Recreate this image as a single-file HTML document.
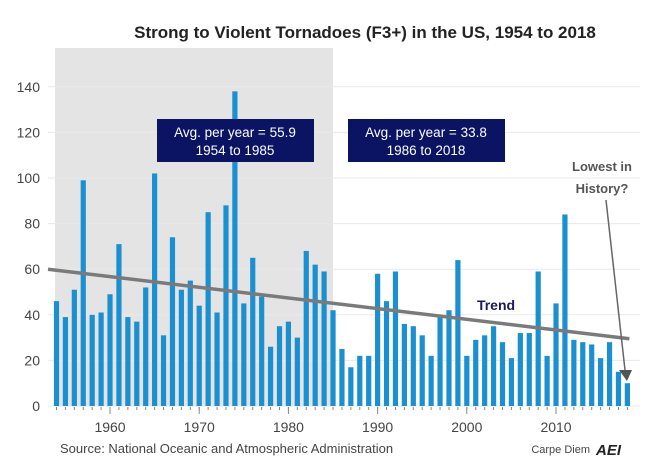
<!DOCTYPE html>
<html><head><meta charset="utf-8"><style>
body{margin:0;background:#fff;font-family:"Liberation Sans",sans-serif}
svg{display:block}
</style></head><body>
<svg width="671" height="467" viewBox="0 0 671 467" id="chart">
<rect x="0" y="0" width="671" height="467" fill="#fff"/>
<text x="365" y="38" text-anchor="middle" font-size="17" font-weight="bold" fill="#222">Strong to Violent Tornadoes (F3+) in the US, 1954 to 2018</text>
<g id="grid"></g>
<g id="bars"></g>
<g id="axis"></g>
</svg>
<script>
const years=[];for(let y=1954;y<=2018;y++)years.push(y);
const counts=[46,39,51,99,40,41,49,71,39,37,52,102,31,74,51,55,44,85,41,88,138,45,65,48,26,35,37,30,68,62,59,42,
25,17,22,22,58,46,59,36,35,31,22,40,42,64,22,29,31,35,28,21,32,32,59,22,45,84,29,28,27,21,28,15,10];
const yTicks=[0,20,40,60,80,100,120,140];
const xTicks=[1960,1970,1980,1990,2000,2010];
const trendStart=[1954,60],trendEnd=[2018,29.5];
const NS="http://www.w3.org/2000/svg";
const X=y=>56.5+(y-1954)*8.92;
const Y=v=>406-v*2.28;
function mk(t,a,p){const e=document.createElementNS(NS,t);for(const k in a)e.setAttribute(k,a[k]);(p||document.getElementById('chart')).appendChild(e);return e;}
const grid=document.getElementById('grid'),bars=document.getElementById('bars'),axis=document.getElementById('axis');
const sh=mk('rect',{x:55,y:48,width:278,height:Y(0)-48,fill:'#e4e4e4'},grid);


yTicks.forEach(v=>{
const l=mk('line',{x1:48,x2:640,y1:Y(v),y2:Y(v),stroke:'#e9e9e9','stroke-width':1},grid);


const t=mk('text',{x:40,y:Y(v)+5,'text-anchor':'end','font-size':14,fill:'#444'},axis);
t.textContent=v;


});
years.forEach((yr,i)=>{
const r=mk('rect',{x:X(yr)-2.6,y:Y(counts[i]),width:5.2,height:Y(0)-Y(counts[i]),fill:'#1a90d0'},bars);


const tk=mk('line',{x1:X(yr),x2:X(yr),y1:407,y2:410,stroke:'#888'},axis);


});
xTicks.forEach(yr=>{
const tk=mk('line',{x1:X(yr),x2:X(yr),y1:407,y2:414,stroke:'#888'},axis);


const t=mk('text',{x:X(yr),y:432,'text-anchor':'middle','font-size':14,fill:'#444'},axis);
t.textContent=yr;


});
const tr=mk('line',{x1:48,y1:Y(trendStart[1]),x2:X(trendEnd[0])+2,y2:Y(trendEnd[1]),stroke:'#7a7a7a','stroke-width':3.5},axis);


</script>
<svg style="position:absolute;left:0;top:0" width="671" height="467">
<rect x="157" y="119" width="157" height="43" fill="#0b1463"/>
<text x="235" y="137" text-anchor="middle" font-size="13.5" fill="#fff">Avg. per year = 55.9</text>
<text x="235" y="155" text-anchor="middle" font-size="13.5" fill="#fff">1954 to 1985</text>
<rect x="348" y="119" width="157" height="43" fill="#0b1463"/>
<text x="426" y="137" text-anchor="middle" font-size="13.5" fill="#fff">Avg. per year = 33.8</text>
<text x="426" y="155" text-anchor="middle" font-size="13.5" fill="#fff">1986 to 2018</text>
<text x="496" y="310" text-anchor="middle" font-size="14" font-weight="bold" fill="#1a1a5e">Trend</text>
<text x="602" y="171" text-anchor="middle" font-size="13" font-weight="bold" fill="#555">Lowest in</text>
<text x="602" y="193" text-anchor="middle" font-size="13" font-weight="bold" fill="#555">History?</text>
<line x1="606" y1="200" x2="625" y2="370" stroke="#666" stroke-width="1.5"/>
<polygon points="619,370 632,370 627,381" fill="#555"/>
<text x="60" y="453" font-size="13" fill="#444">Source: National Oceanic and Atmospheric Administration</text>
<text x="590" y="453" text-anchor="end" font-size="11" fill="#444">Carpe Diem</text>
<text x="596" y="455" font-size="15" font-weight="bold" font-style="italic" fill="#222">AEI</text>
</svg>
</body></html>
